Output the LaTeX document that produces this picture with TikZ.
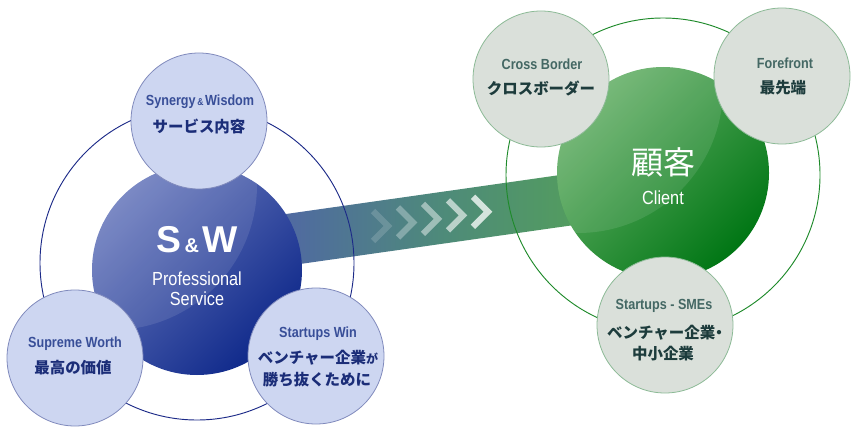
\documentclass[tikz,border=0pt]{standalone}
\usepackage{fontspec}
\setmainfont{Liberation Sans}
\newfontfamily\condfont{Liberation Sans}[FakeStretch=0.86]
\newfontfamily\jpfont{Noto Sans CJK JP}
\definecolor{ringblue}{RGB}{28,42,136}
\definecolor{ringgreen}{RGB}{30,138,42}
\definecolor{subfillB}{RGB}{205,214,241}
\definecolor{subdrawB}{RGB}{128,138,188}
\definecolor{subfillG}{RGB}{218,224,218}
\definecolor{subdrawG}{RGB}{140,186,150}
\definecolor{entxtB}{RGB}{56,78,152}
\definecolor{jptxtB}{RGB}{27,45,120}
\definecolor{entxtG}{RGB}{68,104,100}
\definecolor{jptxtG}{RGB}{29,60,60}
\definecolor{mainB1}{RGB}{108,124,190}
\definecolor{mainB2}{RGB}{14,40,138}
\definecolor{mainG1}{RGB}{106,178,108}
\definecolor{mainG2}{RGB}{0,118,20}
\definecolor{bandblue}{RGB}{80,100,168}
\definecolor{bandteal}{RGB}{78,138,122}
\definecolor{bandgreen}{RGB}{84,162,86}
\begin{document}
\begin{tikzpicture}[x=0.75pt,y=-0.75pt,
  ringB/.style={circle,minimum size=235.5pt,inner sep=0pt,draw=ringblue,line width=0.7pt},
  ringG/.style={circle,minimum size=235.5pt,inner sep=0pt,draw=ringgreen,line width=0.7pt},
  subB/.style={circle,minimum size=102pt,inner sep=0pt,fill=subfillB,draw=subdrawB,line width=0.6pt},
  subG/.style={circle,minimum size=102pt,inner sep=0pt,fill=subfillG,draw=subdrawG,line width=0.6pt},
  entxt/.style={font=\condfont\bfseries\fontsize{11}{13}\selectfont,inner sep=0pt},
  jptxt/.style={font=\jpfont\bfseries\fontsize{11.6}{14}\selectfont,inner sep=0pt}]
  \useasboundingbox (0,0) rectangle (859,435);

  % band between the two groups
  \shade[left color=bandblue,right color=bandgreen,middle color=bandteal]
    (260,217.7) -- (620,166.5) -- (620,218.5) -- (260,269.7) -- cycle;

  % thin outer rings
  \node[ringB] (ringL) at (197,263) {};
  \node[ringG] (ringR) at (663,175) {};

  % main circles
  \node[circle,minimum size=157.5pt,inner sep=0pt,top color=mainB1,bottom color=mainB2,shading angle=45] (sw) at (197,270) {};
  \begin{scope}
    \clip (sw.center) circle (105);
    \fill[white,opacity=0.1] (112,185) circle (145);
  \end{scope}
  \node[circle,minimum size=159pt,inner sep=0pt,top color=mainG1,bottom color=mainG2,shading angle=45] (cl) at (663,173) {};
  \begin{scope}
    \clip (cl.center) circle (106);
    \fill[white,opacity=0.1] (578,88) circle (145);
  \end{scope}

  % chevrons on the band
  \foreach \i in {0,...,4} {
    \pgfmathsetmacro\cx{388+25*\i}
    \pgfmathsetmacro\cy{226-3.55*\i}
    \pgfmathsetmacro\op{0.16+0.15*\i}
    \draw[white,line width=4.6pt,opacity=\op,line join=miter]
      (\cx-15,\cy-15) -- (\cx,\cy) -- (\cx-15,\cy+15);
  }

  % centre texts
  \node[white,font=\bfseries\fontsize{28}{30}\selectfont,inner sep=0pt] (swT) at (197,240)
    {S{\fontsize{15}{16}\selectfont\,\&\,}W};
  \node[white,font=\condfont\fontsize{14.2}{16}\selectfont,inner sep=0pt] (swP) at (197,279) {Professional};
  \node[white,font=\condfont\fontsize{14.2}{16}\selectfont,inner sep=0pt] (swS) at (197,299) {Service};
  \node[white,font=\jpfont\fontsize{24}{26}\selectfont,inner sep=0pt] (clT) at (663,162) {顧客};
  \node[white,font=\condfont\fontsize{14.2}{16}\selectfont,inner sep=0pt] (clE) at (663,198) {Client};

  % satellite circles, left group
  \node[subB] (syn) at (199,121) {};
  \node[entxt,entxtB] (synE) at (200,102) {Synergy{\fontsize{7.5}{8}\selectfont\,\&\,}Wisdom};
  \node[jptxt,jptxtB] (synJ) at (199,126) {サービス内容};
  \node[subB] (sup) at (75,358) {};
  \node[entxt,entxtB] (supE) at (75,344) {Supreme Worth};
  \node[jptxt,jptxtB] (supJ) at (73,368) {最高の価値};
  \node[subB] (win) at (316,356) {};
  \node[entxt,entxtB] (winE) at (318,334) {Startups Win};
  \node[jptxt,jptxtB] (winJ) at (318,358) {ベンチャー企業{\fontsize{9}{10}\selectfont が}};
  \node[jptxt,jptxtB] (winK) at (317,380) {勝ち抜くために};

  % satellite circles, right group
  \node[subG] (cro) at (541,79) {};
  \node[entxt,entxtG] (croE) at (542,64) {Cross Border};
  \node[jptxt,jptxtG] (croJ) at (541,88) {クロスボーダー};
  \node[subG] (fore) at (782,76) {};
  \node[entxt,entxtG] (foreE) at (785,63) {Forefront};
  \node[jptxt,jptxtG] (foreJ) at (783,88) {最先端};
  \node[subG] (sme) at (665,325) {};
  \node[entxt,entxtG] (smeE) at (664,306) {Startups - SMEs};
  \node[jptxt,jptxtG] (smeJ) at (667,333) {ベンチャー企業\hspace{-0.25em}・};
  \node[jptxt,jptxtG] (smeK) at (663,354) {中小企業};
\end{tikzpicture}
\end{document}
